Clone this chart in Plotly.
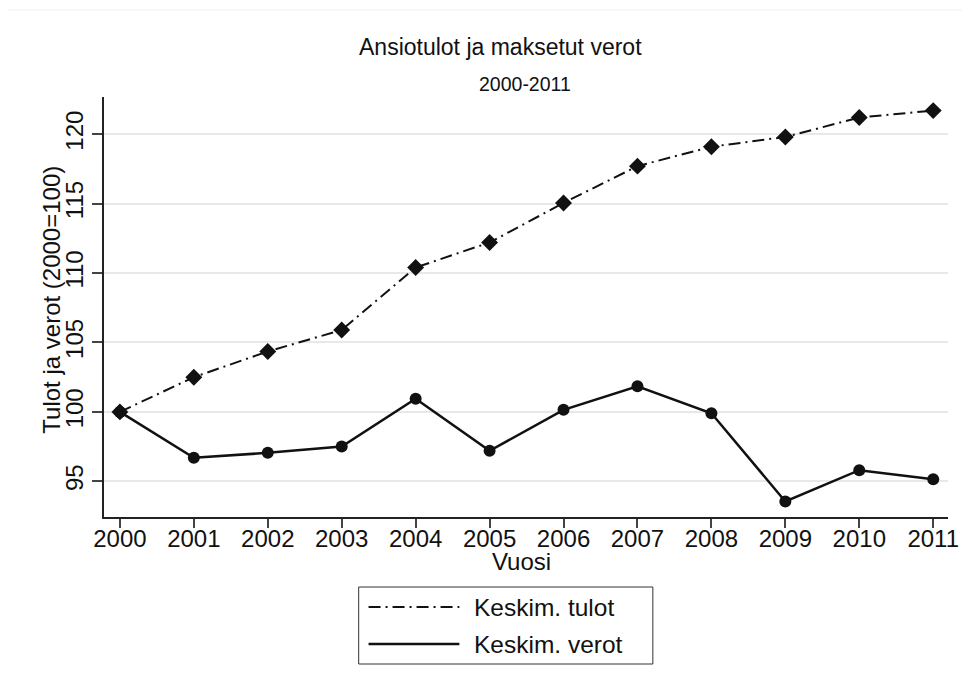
import plotly.graph_objects as go

years = [2000, 2001, 2002, 2003, 2004, 2005, 2006, 2007, 2008, 2009, 2010, 2011]
tulot = [100.0, 102.5, 104.35, 105.9, 110.4, 112.2, 115.05, 117.7, 119.1, 119.8, 121.2, 121.7]
verot = [100.0, 96.7, 97.05, 97.5, 100.95, 97.2, 100.15, 101.85, 99.9, 93.55, 95.8, 95.15]
series_names = ["Keskim. tulot", "Keskim. verot"]
y_ticks = [95, 100, 105, 110, 115, 120]

FONT = "Liberation Sans, Arial, sans-serif"
INK = "#111111"
DASHDOT = "12px,5px,2px,5px"

fig = go.Figure()
fig.add_trace(go.Scatter(
    x=years, y=tulot, name=series_names[0], mode="lines+markers",
    line=dict(color=INK, width=2, dash=DASHDOT),
    marker=dict(symbol="diamond", size=13, color=INK),
    showlegend=False))
fig.add_trace(go.Scatter(
    x=years, y=verot, name=series_names[1], mode="lines+markers",
    line=dict(color=INK, width=2.5),
    marker=dict(symbol="circle", size=12, color=INK),
    showlegend=False))

# page body has an 8px margin; work in reference pixel coords and shift
OFF = 8
W, H = 970 - OFF, 689 - OFF
L, R, T, B = 104 - OFF, 19 - OFF, 97 - OFF, 180 - OFF
pw, ph = W - L - R, H - T - B

def px(x):
    return (x - OFF - L) / pw

def py(y):
    return (H - B - (y - OFF)) / ph

shapes = [
    dict(type="rect", xref="paper", yref="paper", x0=px(4), x1=px(975), y0=py(10), y1=py(700),
         line=dict(color="#f0f0f0", width=1), layer="below"),
    dict(type="rect", xref="paper", yref="paper", x0=px(362), x1=px(660), y0=py(664), y1=py(587),
         line=dict(color="#333333", width=1)),
    dict(type="line", xref="paper", yref="paper", x0=px(372), x1=px(464), y0=py(607), y1=py(607),
         line=dict(color=INK, width=2, dash=DASHDOT)),
    dict(type="line", xref="paper", yref="paper", x0=px(372), x1=px(464), y0=py(644), y1=py(644),
         line=dict(color=INK, width=2.5)),
]

annotations = [
    dict(text="Ansiotulot ja maksetut verot", xref="paper", yref="paper", x=px(506), y=py(47),
         xanchor="center", yanchor="middle", showarrow=False, font=dict(size=23, color=INK, family=FONT)),
    dict(text="2000-2011", xref="paper", yref="paper", x=px(530), y=py(84),
         xanchor="center", yanchor="middle", showarrow=False, font=dict(size=19.5, color=INK, family=FONT)),
    dict(text=series_names[0], xref="paper", yref="paper", x=px(477), y=py(607),
         xanchor="left", yanchor="middle", showarrow=False, font=dict(size=24.5, color=INK, family=FONT)),
    dict(text=series_names[1], xref="paper", yref="paper", x=px(477), y=py(644),
         xanchor="left", yanchor="middle", showarrow=False, font=dict(size=24.5, color=INK, family=FONT)),
    dict(text="Vuosi", xref="paper", yref="paper", x=px(527), y=py(561),
         xanchor="center", yanchor="middle", showarrow=False, font=dict(size=24, color=INK, family=FONT)),
    dict(text="Tulot ja verot (2000=100)", xref="paper", yref="paper", x=px(50), y=py(300),
         xanchor="center", yanchor="middle", textangle=-90, showarrow=False,
         font=dict(size=24, color=INK, family=FONT)),
]

fig.update_layout(
    width=W, height=H,
    margin=dict(l=L, r=R, t=T, b=B, pad=0),
    paper_bgcolor="white", plot_bgcolor="white",
    font=dict(family=FONT, color=INK, size=24),
    shapes=shapes, annotations=annotations,
    xaxis=dict(
        range=[1999.785, 2011.2], tickmode="array", tickvals=years,
        ticktext=[str(y) for y in years],
        showgrid=False, zeroline=False,
        showline=True, linecolor="#222222", linewidth=1.5,
        ticks="outside", ticklen=9, tickcolor="#444444", tickwidth=1.5,
        ticklabelstandoff=-10,
        tickfont=dict(size=24, family=FONT, color=INK),
    ),
    yaxis=dict(
        range=[92.43, 122.68], tickmode="array", tickvals=y_ticks,
        ticktext=[str(v) for v in y_ticks], tickangle=-90,
        showgrid=True, gridcolor="#e8e8e8", gridwidth=1.5, zeroline=False,
        showline=True, linecolor="#222222", linewidth=1.5,
        ticks="outside", ticklen=10, tickcolor="#444444", tickwidth=1.5,
        tickfont=dict(size=24, family=FONT, color=INK),
    ),
)

fig.write_html("out.html")
